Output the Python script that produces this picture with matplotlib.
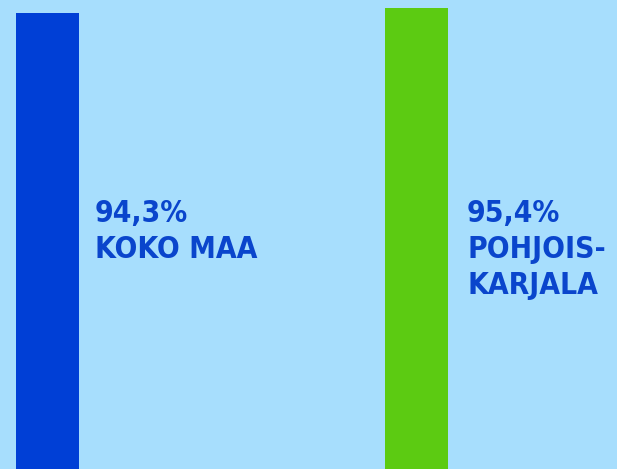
import matplotlib
matplotlib.use('Agg')
import matplotlib.pyplot as plt

regions = ['KOKO MAA', 'POHJOIS-\nKARJALA']
values = [94.3, 95.4]
value_labels = ['94,3%', '95,4%']
colors = ['#003fd6', '#5ccb12']

bg = '#a7defd'
text_color = '#0a45cc'

fig = plt.figure(figsize=(6.17, 4.69), dpi=100)
fig.patch.set_facecolor(bg)
ax = fig.add_axes([0, 0, 1, 1])
ax.set_facecolor(bg)

x = list(range(len(values)))
ax.bar(x, values, width=0.171, color=colors)

ax.set_xlim(-0.1287, 1.5434)
ax.set_ylim(0, 97.06)
ax.axis('off')

# labels to the right of each bar
for i, (v, r) in enumerate(zip(value_labels, regions)):
    ax.text(i + 0.129 + 0.008 * i, 0.575, f'{v}\n{r}',
            transform=ax.get_xaxis_transform(),
            ha='left', va='top', color=text_color,
            fontsize=21.5, fontweight='bold', fontstretch='condensed',
            family='DejaVu Sans', linespacing=1.3)

plt.savefig('out.png', dpi=100, facecolor=bg)
